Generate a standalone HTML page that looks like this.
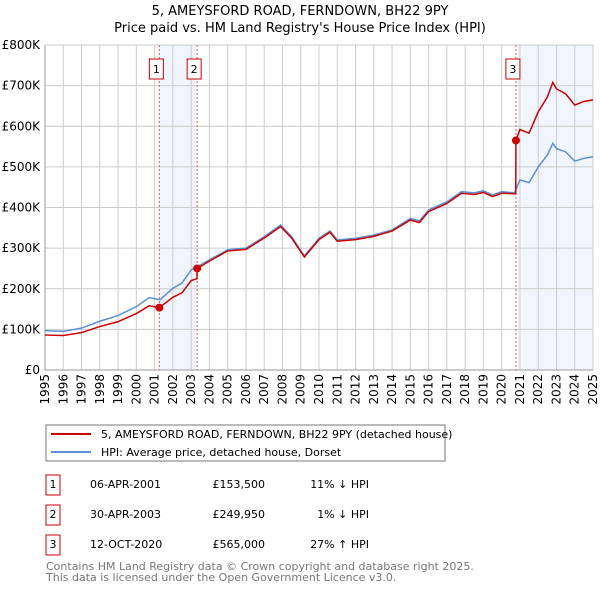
<!DOCTYPE html>
<html><head><meta charset="utf-8"><style>
body{margin:0;width:600px;height:590px;background:#fff;font-family:"Liberation Sans","DejaVu Sans",sans-serif;overflow:hidden}
svg text{font-family:"DejaVu Sans","Liberation Sans",sans-serif}
</style></head><body>
<svg id="c" width="600" height="590">
<text x="300" y="15" text-anchor="middle" font-size="13">5, AMEYSFORD ROAD, FERNDOWN, BH22 9PY</text>
<text x="300" y="32" text-anchor="middle" font-size="13">Price paid vs. HM Land Registry's House Price Index (HPI)</text>
<g id="grid"></g><g id="marks"></g>
<rect x="46" y="425" width="399" height="36" fill="#fff" stroke="#777"/>
<line x1="51" y1="434" x2="91" y2="434" stroke="#cc0000" stroke-width="2"/>
<text x="101" y="438" font-size="11">5, AMEYSFORD ROAD, FERNDOWN, BH22 9PY (detached house)</text>
<line x1="51" y1="452" x2="91" y2="452" stroke="#5b8fd6" stroke-width="2"/>
<text x="101" y="456" font-size="11">HPI: Average price, detached house, Dorset</text>
<g font-size="11">
<rect x="46" y="475" width="14" height="20" fill="none" stroke="#cc0000"/><text x="53" y="488" text-anchor="middle">1</text>
<text x="90" y="488">06-APR-2001</text><text x="265" y="488" text-anchor="end">£153,500</text><text x="369" y="488" text-anchor="end">11% ↓ HPI</text>
<rect x="46" y="505" width="14" height="20" fill="none" stroke="#cc0000"/><text x="53" y="518" text-anchor="middle">2</text>
<text x="90" y="518">30-APR-2003</text><text x="265" y="518" text-anchor="end">£249,950</text><text x="369" y="518" text-anchor="end">1% ↓ HPI</text>
<rect x="46" y="535" width="14" height="20" fill="none" stroke="#cc0000"/><text x="53" y="548" text-anchor="middle">3</text>
<text x="90" y="548">12-OCT-2020</text><text x="265" y="548" text-anchor="end">£565,000</text><text x="369" y="548" text-anchor="end">27% ↑ HPI</text>
</g>
<text x="46" y="570" font-size="11" fill="#777">Contains HM Land Registry data © Crown copyright and database right 2025.</text>
<text x="46" y="581" font-size="11" fill="#777">This data is licensed under the Open Government Licence v3.0.</text>
</svg>
<script>
const hpiYears=[1995,1996,1997,1998,1999,2000,2000.7,2001.3,2002,2002.5,2003,2004,2005,2006,2007,2007.9,2008.5,2009.2,2010,2010.6,2011,2012,2013,2014,2015,2015.5,2016,2017,2017.8,2018.5,2019,2019.5,2020,2020.7,2021,2021.5,2022,2022.5,2022.8,2023,2023.5,2024,2024.5,2025];
const hpiValues=[97,95,103,120,134,156,178,173,201,214,246,271,296,300,328,357,328,281,324,342,320,324,332,345,373,367,394,414,439,436,441,431,439,436,468,461,500,529,558,545,537,514,521,525];
const priceYears=[1995,1996,1997,1998,1999,2000,2000.7,2001.26,2002,2002.5,2003,2003.32,2003.33,2004,2005,2006,2007,2007.9,2008.5,2009.2,2010,2010.6,2011,2012,2013,2014,2015,2015.5,2016,2017,2017.8,2018.5,2019,2019.5,2020,2020.77,2020.78,2021,2021.5,2022,2022.5,2022.8,2023,2023.5,2024,2024.5,2025];
const priceValues=[86,85,92,107,119,139,158,153.5,179,190,220,225,250,268,293,297,325,353,325,278,321,339,317,321,329,342,369,363,390,410,435,432,437,427,435,434,565,592,583,635,672,708,692,680,652,661,665];
const saleYears=[2001.26,2003.33,2020.78];
const saleValues=[153.5,249.95,565];
const saleLabels=["1","2","3"];
const yTicks=[0,100,200,300,400,500,600,700,800];
const yTickLabels=["£0","£100K","£200K","£300K","£400K","£500K","£600K","£700K","£800K"];
const xTicks=[1995,1996,1997,1998,1999,2000,2001,2002,2003,2004,2005,2006,2007,2008,2009,2010,2011,2012,2013,2014,2015,2016,2017,2018,2019,2020,2021,2022,2023,2024,2025];

const NS="http://www.w3.org/2000/svg";
const X0=45,X1=593,Y0=370,Y1=45;
const xs=y=>X0+(y-1995)/30*(X1-X0);
const ys=v=>Y0-v/800*(Y0-Y1);
function mk(t,a,p){const e=document.createElementNS(NS,t);for(const k in a)e.setAttribute(k,a[k]);p.appendChild(e);return e;}
const g=document.getElementById('grid'),m=document.getElementById('marks');
const s1=mk('rect',{x:xs(saleYears[0]),y:Y1,width:xs(saleYears[1])-xs(saleYears[0]),height:Y0-Y1,fill:'#eef3fc',opacity:0.8},g);


const s2=mk('rect',{x:xs(saleYears[2]),y:Y1,width:X1-xs(saleYears[2]),height:Y0-Y1,fill:'#eef3fc',opacity:0.8},g);


yTicks.forEach((v,i)=>{
 const l=mk('line',{x1:X0,x2:X1,y1:ys(v),y2:ys(v),stroke:'#ccc'},g);
 
 
 const t=mk('text',{x:X0-5,y:ys(v)+4,'text-anchor':'end','font-size':12},g);t.textContent=yTickLabels[i];
 
 
});
xTicks.forEach(yr=>{
 const l=mk('line',{x1:xs(yr),x2:xs(yr),y1:Y1,y2:Y0,stroke:'#ccc'},g);
 
 
 const t=mk('text',{x:0,y:0,'text-anchor':'end','font-size':12,transform:`translate(${xs(yr)+4},${Y0+4}) rotate(-90)`},g);t.textContent=yr;
 
 
});
const ax=mk('path',{d:`M${X0},${Y1}V${Y0}H${X1}`,fill:'none',stroke:'#999'},g);


saleYears.forEach((yr,i)=>{
 const l=mk('line',{x1:xs(yr),x2:xs(yr),y1:Y1,y2:Y0,stroke:'#e55','stroke-dasharray':'2,2'},m);
 
 
 const bx=mk('rect',{x:xs(yr)-10,y:59,width:14,height:20,fill:'#fff',stroke:'#cc0000'},m);
 
 
 const t=mk('text',{x:xs(yr)-3,y:73,'text-anchor':'middle','font-size':11},m);t.textContent=saleLabels[i];
 
 
});
const hp=mk('polyline',{points:hpiYears.map((y,i)=>xs(y)+','+ys(hpiValues[i])).join(' '),fill:'none',stroke:'#5b8fd6','stroke-width':1.5},m);


const pp=mk('polyline',{points:priceYears.map((y,i)=>xs(y)+','+ys(priceValues[i])).join(' '),fill:'none',stroke:'#cc0000','stroke-width':1.5},m);


saleYears.forEach((yr,i)=>{
 const c=mk('circle',{cx:xs(yr),cy:ys(saleValues[i]),r:4,fill:'#cc0000'},m);
 
 
});
</script>
</body></html>
